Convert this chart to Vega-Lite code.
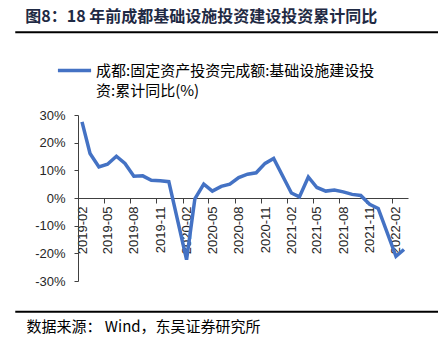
{
  "$schema": "https://vega.github.io/schema/vega-lite/v6.json",
  "width": 330,
  "height": 166,
  "autosize": {"type": "none"},
  "padding": {"left": 78, "top": 115, "right": 30, "bottom": 65},
  "background": "white",
  "config": {"view": {"stroke": null}, "axis": {"labelOverlap": false}},
  "title": {
    "text": "图8：18 年前成都基础设施投资建设投资累计同比",
    "anchor": "start",
    "font": "Noto Sans CJK SC",
    "fontSize": 16,
    "fontWeight": "bold",
    "color": "#1f2a44",
    "dx": 11,
    "offset": 6
  },
  "layer": [
    {
      "data": {"values": [
        {"date": "2019-02-01", "value": 27.5},
        {"date": "2019-03-01", "value": 16.1},
        {"date": "2019-04-01", "value": 11.2},
        {"date": "2019-05-01", "value": 12.2},
        {"date": "2019-06-01", "value": 15.1},
        {"date": "2019-07-01", "value": 12.5},
        {"date": "2019-08-01", "value": 7.9},
        {"date": "2019-09-01", "value": 8.0},
        {"date": "2019-10-01", "value": 6.4},
        {"date": "2019-11-01", "value": 6.2},
        {"date": "2019-12-01", "value": 5.9},
        {"date": "2020-02-01", "value": -22.3},
        {"date": "2020-03-01", "value": -0.3},
        {"date": "2020-04-01", "value": 5.0},
        {"date": "2020-05-01", "value": 2.5},
        {"date": "2020-06-01", "value": 4.2},
        {"date": "2020-07-01", "value": 5.0},
        {"date": "2020-08-01", "value": 7.4},
        {"date": "2020-09-01", "value": 8.6},
        {"date": "2020-10-01", "value": 9.1},
        {"date": "2020-11-01", "value": 12.5},
        {"date": "2020-12-01", "value": 14.3},
        {"date": "2021-02-01", "value": 1.8},
        {"date": "2021-03-01", "value": 0.4},
        {"date": "2021-04-01", "value": 7.6},
        {"date": "2021-05-01", "value": 3.8},
        {"date": "2021-06-01", "value": 2.5},
        {"date": "2021-07-01", "value": 2.9},
        {"date": "2021-08-01", "value": 2.2},
        {"date": "2021-09-01", "value": 1.3},
        {"date": "2021-10-01", "value": 0.9},
        {"date": "2021-11-01", "value": -2.3},
        {"date": "2021-12-01", "value": -3.8},
        {"date": "2022-02-01", "value": -21.1},
        {"date": "2022-03-01", "value": -18.6}
      ]},
      "mark": {"type": "line", "strokeWidth": 3.5, "strokeJoin": "miter", "strokeCap": "butt"},
      "encoding": {
        "x": {
          "field": "date",
          "type": "temporal",
          "scale": {"type": "utc", "domain": [
            {"year": 2019, "month": 1, "date": 18, "utc": true},
            {"year": 2022, "month": 3, "date": 15, "utc": true}
          ]},
          "axis": {
            "orient": "bottom",
            "offset": -83,
            "grid": false,
            "tickCount": 40,
            "values": [
              {"year": 2019, "month": 2, "date": 1, "utc": true},
              {"year": 2019, "month": 5, "date": 1, "utc": true},
              {"year": 2019, "month": 8, "date": 1, "utc": true},
              {"year": 2019, "month": 11, "date": 1, "utc": true},
              {"year": 2020, "month": 2, "date": 1, "utc": true},
              {"year": 2020, "month": 5, "date": 1, "utc": true},
              {"year": 2020, "month": 8, "date": 1, "utc": true},
              {"year": 2020, "month": 11, "date": 1, "utc": true},
              {"year": 2021, "month": 2, "date": 1, "utc": true},
              {"year": 2021, "month": 5, "date": 1, "utc": true},
              {"year": 2021, "month": 8, "date": 1, "utc": true},
              {"year": 2021, "month": 11, "date": 1, "utc": true},
              {"year": 2022, "month": 2, "date": 1, "utc": true}
            ],
            "format": "%Y-%m",
            "labelAngle": -90,
            "labelAlign": "right",
            "labelBaseline": "middle",
            "labelFont": "Liberation Sans",
            "labelFontSize": 13,
            "labelColor": "#262626",
            "labelPadding": 3,
            "labelOffset": 4,
            "tickOffset": -4,
            "tickSize": 5,
            "tickColor": "#404040",
            "domainColor": "#404040",
            "labelOverlap": false,
            "labelFlush": false,
            "title": "数据来源： Wind，东吴证券研究所",
            "titleFont": "Noto Sans CJK SC",
            "titleFontSize": 15,
            "titleFontWeight": "normal",
            "titleColor": "#000000",
            "titleAlign": "left",
            "titleAnchor": "start",
            "titleBaseline": "middle",
            "titleAngle": 0,
            "titleX": -52,
            "titleY": 128
          }
        },
        "y": {
          "field": "value",
          "type": "quantitative",
          "scale": {"domain": [-30, 30], "nice": false},
          "axis": {
            "values": [-30, -20, -10, 0, 10, 20, 30],
            "tickCount": 20,
            "labelOverlap": false,
            "labelExpr": "datum.value + '%'",
            "grid": false,
            "tickSize": 4,
            "labelPadding": 9,
            "labelFont": "Liberation Sans",
            "labelFontSize": 13,
            "labelColor": "#262626",
            "tickColor": "#404040",
            "domainColor": "#404040",
            "title": null
          }
        },
        "color": {
          "datum": "成都:固定资产投资完成额:基础设施建设投资:累计同比(%)",
          "type": "nominal",
          "scale": {"range": ["#4472C4"]},
          "legend": {
            "orient": "none",
            "legendX": -22,
            "legendY": -63,
            "title": null,
            "symbolType": "stroke",
            "symbolSize": 1100,
            "symbolStrokeWidth": 3.5,
            "labelOffset": 3,
            "labelFont": "Noto Sans CJK SC",
            "labelFontSize": 15,
            "labelColor": "#000000",
            "labelLimit": 400,
            "labelBaseline": "middle",
            "labelExpr": "[substring(datum.label, 0, 20), substring(datum.label, 20)]",
            "encode": {"labels": {"update": {"lineHeight": {"value": 20}, "dy": {"value": 0}}}}
          }
        }
      }
    },
    {
      "data": {"values": [{"k": 1}]},
      "mark": {"type": "rule", "color": "#000000", "strokeWidth": 2, "clip": false},
      "encoding": {
        "y": {"datum": 59.9, "type": "quantitative"},
        "x": {"datum": {"year": 2018, "month": 6, "date": 13, "utc": true}, "type": "temporal"},
        "x2": {"datum": {"year": 2022, "month": 6, "date": 28, "utc": true}}
      }
    },
    {
      "data": {"values": [{"k": 1}]},
      "mark": {"type": "rule", "color": "#000000", "strokeWidth": 2, "clip": false},
      "encoding": {
        "y": {"datum": -41.1, "type": "quantitative"},
        "x": {"datum": {"year": 2018, "month": 6, "date": 13, "utc": true}, "type": "temporal"},
        "x2": {"datum": {"year": 2022, "month": 6, "date": 28, "utc": true}}
      }
    }
  ]
}
